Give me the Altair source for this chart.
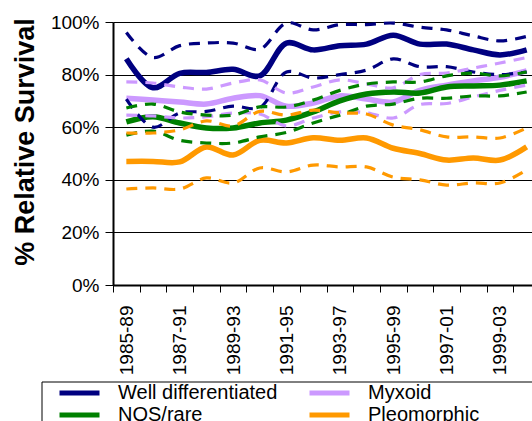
import json
import altair as alt
import pandas as pd

# Five-year diagnosis periods
periods = ["1985-89", "1986-90", "1987-91", "1988-92", "1989-93", "1990-94",
           "1991-95", "1992-96", "1993-97", "1994-98", "1995-99", "1996-00",
           "1997-01", "1998-02", "1999-03", "2000-04"]

# Legend fills column by column: Well / NOS in the first, Myxoid / Pleomorphic in the second
groups = ["Well differentiated", "NOS/rare", "Myxoid", "Pleomorphic"]
colors = ["#000080", "#008000", "#CC99FF", "#FF9900"]

# Relative survival (%) with lower / upper confidence limits
well_est = [86, 75, 80.5, 80.8, 82, 79.5, 92, 89.4, 91, 91.6, 95, 91.6, 91.6, 89.4, 87.5, 89.4]
well_lo = [70.7, 60, 65.4, 66, 68, 67.5, 81, 78.7, 80, 81.7, 86, 83, 83, 81, 80, 81]
well_hi = [96, 86.5, 91, 92, 92, 89.7, 99.6, 97, 99, 99, 99.6, 98, 97, 94.7, 92.8, 94.5]

myx_est = [71, 70.3, 69.6, 68.8, 71, 72, 68, 69.2, 71.9, 70.7, 69.6, 74, 76, 77.6, 79, 81.4]
myx_lo = [64.6, 64.3, 63.5, 64, 65.4, 65, 60.5, 63.5, 65.8, 65.5, 63.5, 68.6, 69, 71.5, 74, 76]
myx_hi = [77.2, 76.8, 75.3, 74.5, 76.8, 78, 73, 75.3, 78, 76.5, 75, 80, 80.6, 82.5, 84.4, 86.5]

nos_est = [62, 64, 61.6, 59.7, 59.7, 61.6, 62.7, 65.8, 70, 72.6, 73.4, 73, 75.3, 75.7, 76, 77.6]
nos_lo = [57, 58.5, 55, 54, 54, 56.3, 58, 61.6, 64.6, 68, 68.8, 71, 71, 71.9, 71.9, 73.4]
nos_hi = [67.3, 68.8, 65.8, 64.6, 64.6, 67.7, 67.7, 70.3, 74, 76.4, 77.2, 77.2, 79.5, 80.6, 79.5, 81]

pleo_est = [47, 47, 46.8, 52.5, 49.4, 55, 54, 56, 55, 55.9, 52, 50, 47.5, 48.3, 47.5, 52.5]
pleo_lo = [36.5, 36.9, 36.5, 40.7, 38.8, 44.5, 43, 45.6, 44.9, 44.9, 41, 40, 38, 38.8, 38.8, 43.7]
pleo_hi = [57.8, 57.8, 59, 62.4, 60.5, 66, 64.6, 66.5, 65.4, 65, 60.8, 59, 56.3, 56.3, 55.9, 59.7]

series = {
    "Well differentiated": (well_est, well_lo, well_hi),
    "Myxoid": (myx_est, myx_lo, myx_hi),
    "NOS/rare": (nos_est, nos_lo, nos_hi),
    "Pleomorphic": (pleo_est, pleo_lo, pleo_hi),
}

rows = []
for g, (est, lo, hi) in series.items():
    for kind, vals in (("est", est), ("lo", lo), ("hi", hi)):
        for i, v in enumerate(vals):
            rows.append({"idx": i, "group": g, "kind": kind, "value": v})
df = pd.DataFrame(rows)

FONT = "Liberation Sans"

color_scale = alt.Scale(domain=groups, range=colors)

legend = alt.Legend(
    title=None,
    orient="none",
    legendX=-56,
    legendY=361,
    columns=2,
    symbolType="stroke",
    symbolSize=1600,
    symbolStrokeWidth=5,
    clipHeight=20,
    labelFontSize=20,
    labelFont=FONT,
    labelColor="black",
    labelOffset=16,
    columnPadding=29,
    rowPadding=2,
)

# Ticks sit on the boundaries between periods; every other period is labelled,
# with the label shifted half a period to the centre of its slot.
boundaries = [i - 0.5 for i in range(len(periods))]
period_js = json.dumps(periods)
x_label_expr = (
    f"(datum.value + 0.5) % 2 == 0 ? {period_js}[datum.value + 0.5] : ''"
)

x_enc = alt.X(
    "idx:Q",
    scale=alt.Scale(domain=[-0.5, 15.2], nice=False, zero=False),
    axis=alt.Axis(
        title=None,
        values=boundaries,
        labelExpr=x_label_expr,
        labelOffset=13.35,
        labelAngle=270,
        labelOverlap=False,
        labelFontSize=19,
        labelFont=FONT,
        labelColor="black",
        labelPadding=13,
        tickSize=7,
        tickColor="black",
        tickWidth=1,
        domainColor="black",
        domainWidth=2,
        grid=False,
    ),
)

y_enc = alt.Y(
    "value:Q",
    scale=alt.Scale(domain=[0, 100]),
    axis=alt.Axis(
        title="% Relative Survival",
        titleFontSize=27,
        titleFontWeight="bold",
        titleFont=FONT,
        titleColor="black",
        titleX=-80,
        titleY=119.5,
        titleBaseline="alphabetic",
        values=[0, 20, 40, 60, 80, 100],
        labelExpr="datum.value + '%'",
        labelFontSize=19,
        labelFont=FONT,
        labelColor="black",
        labelPadding=6,
        tickSize=8,
        tickColor="black",
        domainColor="black",
        domainWidth=2,
        grid=True,
        gridColor="black",
        gridWidth=1,
    ),
)

base = alt.Chart(df)

limits = base.transform_filter("datum.kind != 'est'").mark_line(
    strokeWidth=3.2, strokeDash=[11, 8], interpolate="catmull-rom"
).encode(
    x=x_enc,
    y=y_enc,
    color=alt.Color("group:N", scale=color_scale, legend=legend),
    detail="kind:N",
)

estimates = base.transform_filter("datum.kind == 'est'").mark_line(
    strokeWidth=5.5, interpolate="catmull-rom"
).encode(
    x=x_enc,
    y=y_enc,
    color=alt.Color("group:N", scale=color_scale, legend=legend),
)

# Legend frame edges
frame_df = pd.DataFrame({"k": [0]})
frame_left = alt.Chart(frame_df).mark_rule(color="black", strokeWidth=1).encode(
    x=alt.value(-71), y=alt.value(360), y2=alt.value(420)
)
frame_top = alt.Chart(frame_df).mark_rule(color="black", strokeWidth=1).encode(
    x=alt.value(-71), x2=alt.value(440), y=alt.value(360)
)

chart = alt.layer(estimates, limits, frame_left, frame_top).properties(
    width=419,
    height=263,
    padding={"left": 113, "top": 22, "right": 0, "bottom": 136},
    autosize=alt.AutoSizeParams(type="none"),
    background="white",
).configure_view(strokeWidth=0).configure(font=FONT)

chart.save("out.html", embed_options={"renderer": "svg", "actions": False})
